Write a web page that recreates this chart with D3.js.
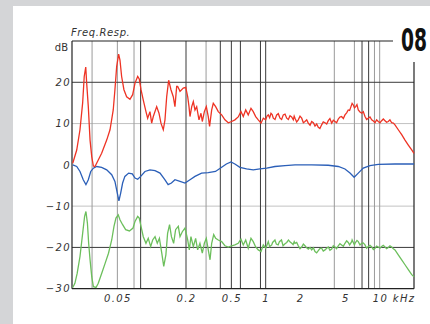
<!DOCTYPE html>
<html>
<head>
<meta charset="utf-8">
<script src="https://cdn.jsdelivr.net/npm/d3@7"></script>
<style>
body { margin: 0; background: #d4d5d7; }
svg { display: block; }
.lbl { font-family: "DejaVu Sans", sans-serif; font-style: italic; font-size: 10px; fill: #333; letter-spacing: 1.4px; }
</style>
</head>
<body>
<script>
// frequency (Hz), level (dB)
const red = [[20.3,0.4],[22,3.6],[23.5,8.5],[24.8,15],[25.6,21.4],[26.4,23.7],[26.9,19.8],[27.8,14.1],[28.8,6],[29.8,2],[30.8,-0.3],[31.8,-0.4],[32.9,0.4],[36.4,2.8],[40.3,6],[43.1,8.5],[46,13.3],[47.6,18.2],[49.3,23.8],[51.3,26.8],[52.7,25.4],[54.5,21.4],[57.1,18.2],[60.3,16.5],[64.5,15.9],[68.1,17],[71.4,19.8],[75.4,21.4],[77.8,20.8],[80.6,18.2],[84.4,15.7],[89.1,12.9],[92.2,11.3],[96.6,12.9],[100,10.1],[103.3,11.7],[110.6,14.1],[115.9,12.5],[120.6,10.1],[126.4,8.5],[130.8,10.9],[135.4,16.5],[140.9,20.5],[147.6,18.2],[154.7,16.5],[160,14.1],[165.7,19],[169,19],[174.7,18.2],[177.2,17.8],[189.3,18.6],[199,18.8],[207,16.5],[212.5,14.1],[216.8,11.7],[224.5,14.1],[231.8,15.3],[239.8,13.3],[248.2,14.1],[260,10.9],[270.7,12.5],[278,10.5],[289.8,12.9],[301.5,14.1],[313.6,11.7],[322,9.3],[336,13.3],[347,14.9],[364,14.1],[383.7,12.9],[411,12.1],[439,10.9],[470,10.2],[503,10.5],[537,10.9],[574,11.6],[607,12.9],[636,11.7],[668,13.3],[703,12.1],[743,13.7],[778,12.9],[817,11.7],[861,10.9],[910,10.1],[953,11.3],[1000,10.9],[1054,12.1],[1113,12.5],[1166,11.3],[1249,12.1],[1335,11.3],[1427,12.1],[1529,11.3],[1634,11.9],[1747,10.9],[1808,11.3],[1931,10.9],[2070,11.3],[2212,10.5],[2364,10.1],[2532,10.5],[2707,9.4],[2894,9.1],[3096,9.7],[3315,10.2],[3541,10.7],[3793,10.1],[4052,10.5],[4333,11.1],[4637,11.7],[4960,12.1],[5300,13.3],[5600,14.1],[5870,14.5],[6160,14.1],[6490,13.3],[6950,12.5],[7430,11.7],[7940,11.3],[8510,10.9],[9100,10.2],[9720,10.5],[10410,10.7],[11130,10.7],[11900,10.5],[12740,10.2],[13620,9.7],[14560,8.5],[15600,7.3],[16680,6],[17830,4.8],[19100,3.6],[20000,2.8]];
// fine ripple riding on the red trace above 1 kHz
const redRipple = [[1027,11.8],[1083,11.4],[1140,12.2],[1207,11.0],[1290,12.4],[1380,11.0],[1478,12.3],[1580,11.0],[1690,11.6],[1778,11.8],[1870,10.4],[2000,11.8],[2140,10.2],[2290,10.9],[2450,9.6],[2620,10.2],[2800,9.9],[2990,8.8],[3200,10.4],[3430,9.9],[3660,11.2],[3920,10.8],[4190,10.2],[4480,11.6],[4800,11.2],[5130,12.6],[5450,13.2],[5730,14.9],[6010,13.8],[6320,14.6],[6720,12.8],[7180,12.9],[7680,11.0],[8220,11.6],[8800,10.6],[9400,10.9],[10060,10.2],[10760,11.1],[11500,10.3],[12300,10.9],[13180,10.1]];

const blue = [[20.3,0],[22,-0.4],[23.5,-1.6],[25.1,-3.6],[26.5,-4.8],[27.8,-3.6],[29.2,-1.6],[30.8,-0.8],[32.9,-0.4],[36.4,-0.6],[40.3,-1.2],[44.6,-2.4],[47.6,-4],[50,-6.9],[51.6,-8.7],[53.4,-6.9],[55.6,-4.4],[58.2,-2.8],[62.8,-2],[67.6,-2.2],[71.4,-3.2],[75.4,-3.5],[80.1,-2.8],[87.3,-1.6],[96.6,-1.2],[107,-1.4],[118.3,-2],[130.4,-3.6],[139.4,-4.8],[149,-4.4],[160,-3.6],[177.2,-4],[196,-4.4],[216.8,-3.6],[239.8,-2.8],[274,-2],[313.6,-1.9],[363,-1.6],[411,-0.6],[452,0.2],[496,0.7],[537,0.2],[594,-0.6],[679,-1],[778,-1.2],[891,-1],[1020,-0.8],[1206,-0.4],[1478,-0.2],[1808,0],[2532,0],[3541,-0.1],[4333,-0.4],[4960,-1],[5490,-2],[5970,-3],[6490,-2],[7180,-0.8],[8220,-0.2],[9720,0.1],[13620,0.2],[20000,0.2]];

const green = [[20.3,-29.7],[21.2,-28.7],[22.2,-26.3],[23.5,-22.2],[24.8,-16.6],[25.8,-12.5],[26.5,-11.3],[27.3,-14.1],[28,-19],[28.8,-23],[29.8,-27.1],[30.8,-29.5],[32.5,-29.7],[34,-28.7],[36.4,-26.3],[39.1,-23.8],[41.8,-21.4],[44.6,-18.2],[46.7,-14.9],[48.6,-12.9],[50.9,-12.1],[52.7,-13.3],[55.6,-14.5],[59.1,-15.7],[63.8,-16],[68.6,-15.3],[71.4,-13.7],[75.4,-12.5],[77.8,-12.9],[80.6,-14.9],[84.4,-17.4],[89.1,-19],[93.3,-17.8],[98,-19.8],[102,-18.2],[107,-17.4],[112,-19],[116.9,-17.8],[122.6,-21.4],[127.6,-24.6],[133.2,-21.8],[137.9,-16.6],[143.5,-14.5],[149,-17.4],[155.8,-19],[162.1,-15.7],[171.2,-14.9],[177.2,-17.4],[185.6,-16.2],[196,-15.3],[207,-18.2],[213.8,-20.6],[221,-17.4],[231.8,-19.8],[243,-17.8],[253,-20.6],[265,-19],[278,-21.4],[289.8,-19],[301.5,-17.8],[313.6,-20.6],[325,-23],[336,-19],[350,-16.9],[364,-17.8],[383.7,-18.2],[411,-18.6],[439,-19.6],[470,-19.9],[503,-19.6],[537,-19.4],[574,-19],[607,-18],[636,-19.4],[668,-18.2],[703,-20.2],[743,-17.8],[778,-18.6],[817,-19.9],[861,-20.6],[910,-21],[953,-19.4],[1000,-20.2],[1054,-18.6],[1130,-19.4],[1206,-18.2],[1286,-19.4],[1376,-18.2],[1478,-19.1],[1585,-18.2],[1693,-19],[1780,-18.6],[1808,-19],[1931,-19.6],[2070,-19.9],[2212,-19.6],[2364,-20.4],[2532,-20.6],[2707,-21],[2894,-20.8],[3096,-20.2],[3315,-20.6],[3541,-19.9],[3793,-20.4],[4052,-19.9],[4333,-19.6],[4637,-19.4],[4960,-19],[5300,-18.8],[5680,-18.6],[6070,-19],[6490,-18.6],[6950,-19],[7430,-19.4],[7940,-19.8],[8510,-19.9],[9100,-20.2],[9720,-19.9],[10410,-19.8],[11130,-19.9],[11900,-20],[12740,-19.9],[13620,-20.6],[14560,-21.8],[15600,-23],[16680,-24.2],[17830,-25.4],[19100,-26.6],[20000,-27.1]];
const greenRipple = [[1027,-19.4],[1083,-19.8],[1150,-18.8],[1240,-19.2],[1320,-18.6],[1420,-19.6],[1530,-18.8],[1640,-18.7],[1740,-19.3],[1870,-18.8],[2000,-20.3],[2140,-19.2],[2290,-20.1],[2450,-20.0],[2620,-20.1],[2800,-21.3],[2990,-20.3],[3200,-20.9],[3430,-20.2],[3660,-20.7],[3920,-19.6],[4190,-20.3],[4480,-19.1],[4800,-19.7],[5130,-18.4],[5450,-19.4],[5730,-18.2],[6010,-19.4],[6320,-18.3],[6720,-19.4],[7180,-18.9],[7680,-20.2],[8220,-19.5],[8800,-20.5],[9400,-19.7],[10060,-20.2],[10760,-19.5],[11500,-20.3],[12300,-19.6],[13180,-20.3]];

const yTicks = [20, 10, 0, -10, -20, -30];
const xTicks = [50, 200, 500, 1000, 2000, 5000, 10000];
const xTickText = ["0.05", "0.2", "0.5", "1", "2", "5", "10 kHz"];
const gridDark = [80, 200, 400, 500, 600, 900, 1000, 7000, 8000];
const gridGray = [30, 50, 70, 300, 4000, 6000, 9000, 10000];
const gridDarkY = [20, -20];
const gridLightY = [10, -10];

const W = 430, H = 324;
const pLeft = 72, pRight = 414, pTop = 41, pBottom = 288.7;

const svg = d3.select('body').append('svg')
    .attr('width', W)
    .attr('height', H);

svg.append('rect').attr('width', W).attr('height', H).attr('fill', '#d4d5d7');
svg.append('rect').attr('x', 13).attr('y', 6).attr('width', W - 13).attr('height', H - 6).attr('fill', '#fff');

const x = d3.scaleLog().domain([20, 20000]).range([pLeft, pRight]);
const y = d3.scaleLinear().domain([-30, 30]).range([pBottom, pTop]);

// grid
const grid = svg.append('g');
grid.selectAll('.hl').data(gridLightY).enter().append('line')
    .attr('x1', pLeft).attr('x2', pRight)
    .attr('y1', d => y(d)).attr('y2', d => y(d))
    .attr('stroke', '#c2c2c2').attr('stroke-width', 1);
grid.selectAll('.vg').data(gridGray).enter().append('line')
    .attr('x1', d => x(d)).attr('x2', d => x(d))
    .attr('y1', pTop).attr('y2', pBottom)
    .attr('stroke', '#9a9a9a').attr('stroke-width', 1);
grid.selectAll('.vd').data(gridDark).enter().append('line')
    .attr('x1', d => x(d)).attr('x2', d => x(d))
    .attr('y1', pTop).attr('y2', pBottom)
    .attr('stroke', '#3a3a3a').attr('stroke-width', 1);
grid.selectAll('.hd').data(gridDarkY).enter().append('line')
    .attr('x1', pLeft).attr('x2', pRight)
    .attr('y1', d => y(d)).attr('y2', d => y(d))
    .attr('stroke', '#3a3a3a').attr('stroke-width', 1);

// frame
const frame = svg.append('g').attr('stroke', '#222').attr('stroke-width', 1.2);
frame.append('line').attr('x1', pLeft).attr('x2', pLeft).attr('y1', pTop).attr('y2', pBottom);
frame.append('line').attr('x1', pLeft).attr('x2', pRight).attr('y1', pBottom).attr('y2', pBottom);
frame.append('line').attr('x1', pLeft).attr('x2', 393).attr('y1', pTop).attr('y2', pTop);
frame.append('line').attr('x1', pRight).attr('x2', pRight).attr('y1', 62).attr('y2', pBottom);

// curves
const line = d3.line().x(d => x(d[0])).y(d => y(d[1]));
const byFreq = (a, b) => a[0] - b[0];
svg.append('path').datum(blue).attr('d', line)
    .attr('fill', 'none').attr('stroke', '#2b5fb8').attr('stroke-width', 1.3);
svg.append('path').datum(green.concat(greenRipple).sort(byFreq)).attr('d', line)
    .attr('fill', 'none').attr('stroke', '#6cbf5c').attr('stroke-width', 1.3);
svg.append('path').datum(red.concat(redRipple).sort(byFreq)).attr('d', line)
    .attr('fill', 'none').attr('stroke', '#ee3324').attr('stroke-width', 1.3);

// axes
const yAxis = svg.append('g')
    .attr('transform', `translate(${pLeft},0)`)
    .call(d3.axisLeft(y).tickValues(yTicks).tickSize(0).tickPadding(1)
        .tickFormat(d => d < 0 ? '\u2212' + (-d) : d));
yAxis.select('.domain').remove();
yAxis.selectAll('text').attr('class', 'lbl');
yAxis.attr('font-family', null).attr('font-size', null);

const xAxis = svg.append('g')
    .attr('transform', `translate(0,${pBottom})`)
    .call(d3.axisBottom(x).tickValues(xTicks).tickSize(0).tickPadding(6)
        .tickFormat((d, i) => xTickText[i]));
xAxis.select('.domain').remove();
xAxis.selectAll('text').attr('class', 'lbl');
xAxis.attr('font-family', null).attr('font-size', null);
xAxis.selectAll('text').filter(d => d === 10000)
    .attr('text-anchor', 'end').attr('x', pRight - x(10000) + 1);

svg.append('text').attr('class', 'lbl')
    .attr('x', 71).attr('y', 36)
    .style('letter-spacing', '0.6px')
    .text('Freq.Resp.');
svg.append('text').attr('class', 'lbl')
    .attr('x', 68).attr('y', 51).attr('text-anchor', 'end')
    .style('font-style', 'normal').style('letter-spacing', '0px')
    .text('dB');

svg.append('text')
    .attr('x', 401).attr('y', 51)
    .attr('font-family', '"DejaVu Sans Condensed", "DejaVu Sans", sans-serif')
    .attr('font-weight', 'bold')
    .attr('font-size', 32)
    .attr('textLength', 26)
    .attr('lengthAdjust', 'spacingAndGlyphs')
    .attr('fill', '#111')
    .text('08');
</script>
</body>
</html>
